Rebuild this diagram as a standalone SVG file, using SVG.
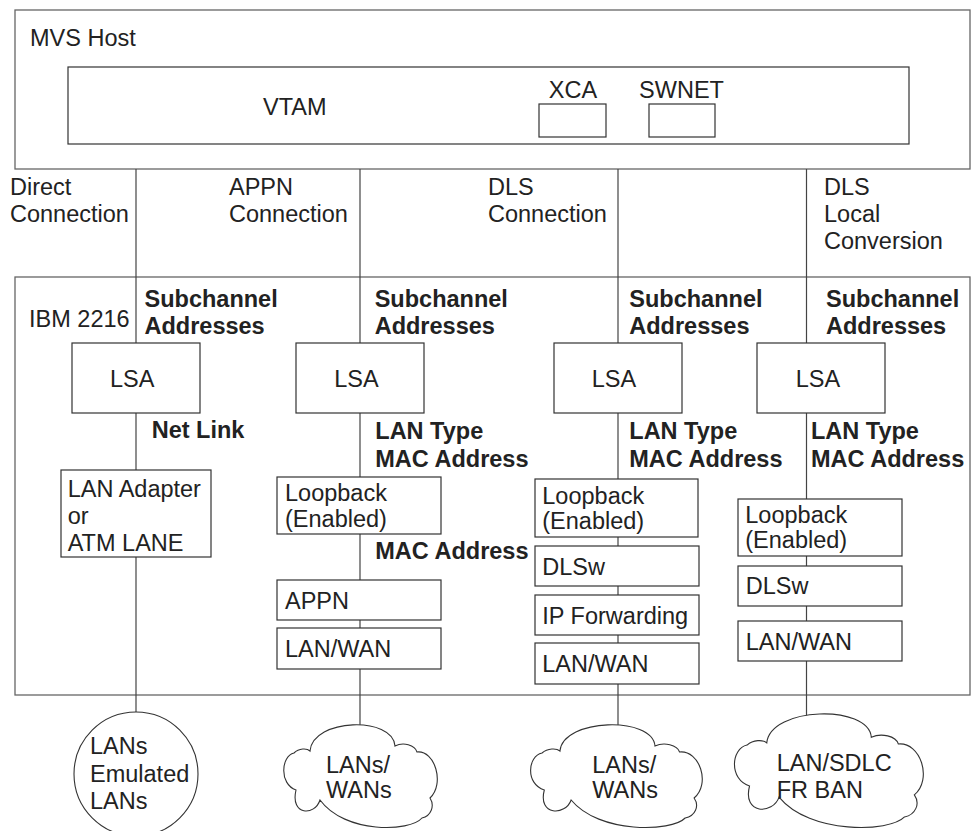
<svg xmlns="http://www.w3.org/2000/svg" xmlns:xlink="http://www.w3.org/1999/xlink" width="971" height="831" viewBox="0 0 971 831">
<style>
text{font-family:"Liberation Sans",Arial,Helvetica,sans-serif;font-size:23.5px;fill:#222}
.b{font-weight:bold}
.m{text-anchor:middle}
.outer{fill:none;stroke:#666;stroke-width:1.3}
.box{fill:#fff;stroke:#333;stroke-width:1.2}
.conn line{stroke:#444;stroke-width:1.2}
.cloud{fill:#fff;stroke:#333;stroke-width:1.1}
</style>
<defs>
<path id="cloudShape" vector-effect="non-scaling-stroke" d="M 25 27 C 28 -6 108 -8 110 22 A 14 10 0 0 1 132 28 C 150 26 160 60 145 74 C 150 82 146 92 137 94 C 125 108 60 110 35 76 C 30 92 5 92 11 66 C -6 60 -4 32 9 29 C 14 24 22 24 25 27 Z"/>
</defs>
<rect width="971" height="831" fill="#fff"/>

<g id="mvs-host">
<rect class="outer" x="15" y="10" width="955" height="159"/>
<text x="30" y="46">MVS Host</text>
</g>
<g id="vtam">
<rect class="box" x="68" y="67" width="841" height="77"/>
<text x="263" y="115">VTAM</text>
</g>
<g id="xca">
<rect class="box" x="539" y="104" width="67" height="33"/>
<text class="m" x="573" y="98">XCA</text>
</g>
<g id="swnet">
<rect class="box" x="649" y="104" width="66" height="33"/>
<text class="m" x="681.5" y="98">SWNET</text>
</g>

<g id="ibm2216">
<rect class="outer" x="15" y="277" width="955" height="418"/>
<text x="29" y="327">IBM 2216</text>
</g>

<g id="connectors" class="conn">
<line x1="136" y1="169" x2="136" y2="343"/>
<line x1="360" y1="169" x2="360" y2="343"/>
<line x1="618" y1="169" x2="618" y2="343"/>
<line x1="806.5" y1="169" x2="806.5" y2="343"/>
<line x1="136" y1="413" x2="136" y2="470"/>
<line x1="136" y1="557" x2="136" y2="713"/>
<line x1="360" y1="413" x2="360" y2="477"/>
<line x1="360" y1="534" x2="360" y2="580"/>
<line x1="360" y1="620" x2="360" y2="628"/>
<line x1="360" y1="669" x2="360" y2="725"/>
<line x1="618" y1="413" x2="618" y2="479"/>
<line x1="618" y1="537" x2="618" y2="546"/>
<line x1="618" y1="586" x2="618" y2="595"/>
<line x1="618" y1="635" x2="618" y2="643"/>
<line x1="618" y1="684" x2="618" y2="725"/>
<line x1="806.5" y1="413" x2="806.5" y2="499"/>
<line x1="806.5" y1="556" x2="806.5" y2="566"/>
<line x1="806.5" y1="606" x2="806.5" y2="621"/>
<line x1="806.5" y1="661" x2="806.5" y2="722"/>
</g>

<g id="labels">
<text x="10" y="195">Direct</text>
<text x="10" y="222">Connection</text>
<text x="229" y="195">APPN</text>
<text x="229" y="222">Connection</text>
<text x="488" y="195">DLS</text>
<text x="488" y="222">Connection</text>
<text x="824" y="195">DLS</text>
<text x="824" y="222">Local</text>
<text x="824" y="249">Conversion</text>
<text class="b" x="144.5" y="307">Subchannel</text>
<text class="b" x="144.5" y="334">Addresses</text>
<text class="b" x="374.7" y="307">Subchannel</text>
<text class="b" x="374.7" y="334">Addresses</text>
<text class="b" x="629.3" y="307">Subchannel</text>
<text class="b" x="629.3" y="334">Addresses</text>
<text class="b" x="826" y="307">Subchannel</text>
<text class="b" x="826" y="334">Addresses</text>
<text class="b" x="151.7" y="438">Net Link</text>
<text class="b" x="375.3" y="439">LAN Type</text>
<text class="b" x="375.3" y="467">MAC Address</text>
<text class="b" x="375.3" y="559">MAC Address</text>
<text class="b" x="629.3" y="439">LAN Type</text>
<text class="b" x="629.3" y="467">MAC Address</text>
<text class="b" x="811" y="439">LAN Type</text>
<text class="b" x="811" y="467">MAC Address</text>
</g>

<g id="lsa-1"><rect class="box" x="72" y="343" width="128" height="70"/><text x="110" y="387">LSA</text></g>
<g id="lsa-2"><rect class="box" x="296" y="343" width="128" height="70"/><text x="334.3" y="387">LSA</text></g>
<g id="lsa-3"><rect class="box" x="554" y="343" width="128" height="70"/><text x="591.7" y="387">LSA</text></g>
<g id="lsa-4"><rect class="box" x="757" y="343" width="128" height="70"/><text x="795.7" y="387">LSA</text></g>

<g id="lan-adapter">
<rect class="box" x="61" y="470" width="150" height="87"/>
<text x="67.7" y="497">LAN Adapter</text>
<text x="67.7" y="523.5">or</text>
<text x="67.7" y="551">ATM LANE</text>
</g>

<g id="loopback-2"><rect class="box" x="277" y="477" width="164" height="57"/><text x="285" y="501">Loopback</text><text x="285" y="526.5">(Enabled)</text></g>
<g id="appn"><rect class="box" x="277" y="580" width="164" height="40"/><text x="285" y="609">APPN</text></g>
<g id="lanwan-2"><rect class="box" x="277" y="628" width="164" height="41"/><text x="285" y="657">LAN/WAN</text></g>

<g id="loopback-3"><rect class="box" x="535" y="479" width="163" height="58"/><text x="542.3" y="503.5">Loopback</text><text x="542.3" y="529">(Enabled)</text></g>
<g id="dlsw-3"><rect class="box" x="535" y="546" width="164" height="40"/><text x="542.3" y="575">DLSw</text></g>
<g id="ip-forwarding"><rect class="box" x="535" y="595" width="164" height="40"/><text x="542.3" y="624">IP Forwarding</text></g>
<g id="lanwan-3"><rect class="box" x="535" y="643" width="164" height="41"/><text x="542.3" y="672">LAN/WAN</text></g>

<g id="loopback-4"><rect class="box" x="738" y="499" width="164" height="57"/><text x="745.3" y="522.5">Loopback</text><text x="745.3" y="548">(Enabled)</text></g>
<g id="dlsw-4"><rect class="box" x="738" y="566" width="164" height="40"/><text x="745.7" y="594.3">DLSw</text></g>
<g id="lanwan-4"><rect class="box" x="738" y="621" width="164" height="40"/><text x="745.7" y="650">LAN/WAN</text></g>

<g id="lans-emulated">
<circle class="cloud" cx="136" cy="774" r="62"/>
<text x="90" y="754">LANs</text>
<text x="90" y="782">Emulated</text>
<text x="90" y="809">LANs</text>
</g>
<g id="cloud-appn">
<use xlink:href="#cloudShape" href="#cloudShape" class="cloud" transform="translate(285,724)"/>
<text x="326" y="773">LANs/</text>
<text x="326" y="798">WANs</text>
</g>
<g id="cloud-dls">
<use xlink:href="#cloudShape" href="#cloudShape" class="cloud" transform="translate(532,724) scale(1.118,1)"/>
<text x="592.3" y="773">LANs/</text>
<text x="592.3" y="798">WANs</text>
</g>
<g id="cloud-local">
<use xlink:href="#cloudShape" href="#cloudShape" class="cloud" transform="translate(736,713) scale(1.23,1.106)"/>
<text x="776.7" y="771">LAN/SDLC</text>
<text x="776.7" y="797.7">FR BAN</text>
</g>
</svg>
